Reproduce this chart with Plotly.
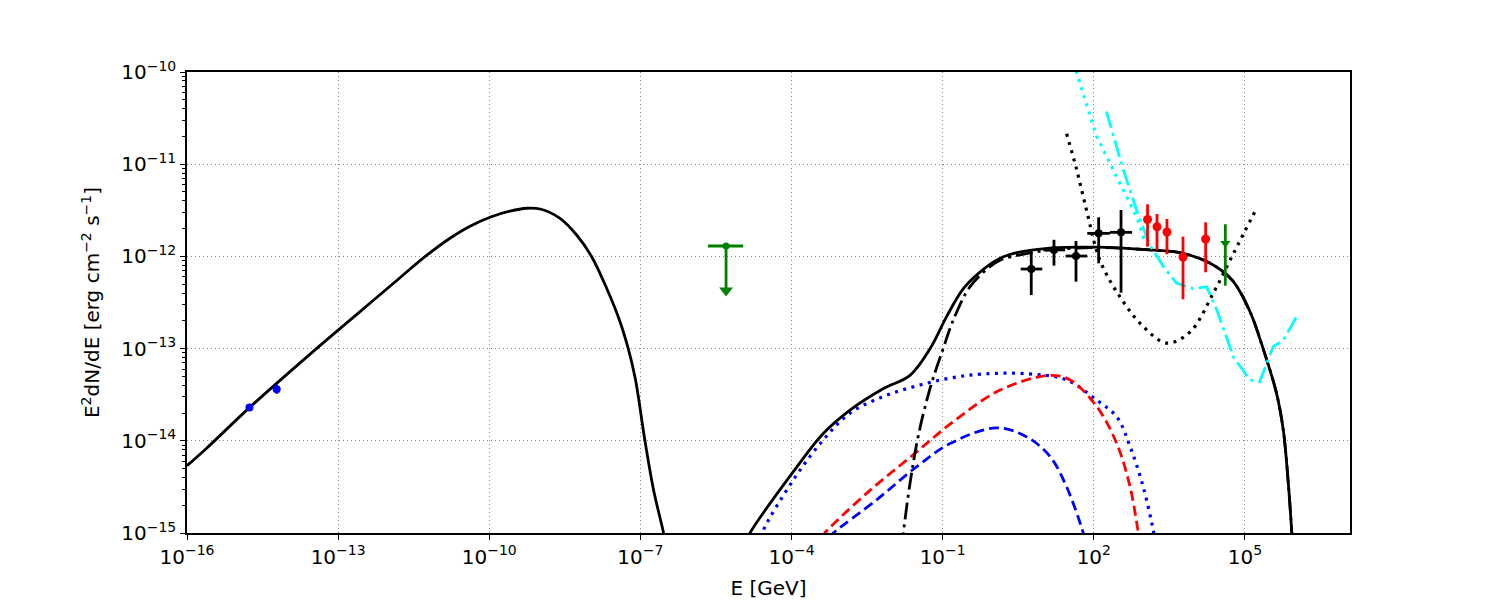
import numpy as np
import plotly.graph_objects as go

# ---------------- data (log10 values) ----------------
# synchrotron model (low energy hump)
sync_logE = [-16, -15.61, -14.76, -13.43, -12.6, -11.772, -11.276, -10.78, -10.383, -9.972, -9.589, -9.257, -8.993, -8.596, -8.265, -7.967, -7.67, -7.405, -7.24, -7.1, -6.91, -6.74, -6.54, -6.45]
sync_logF = [-14.27, -14.08, -13.64, -13.0, -12.615, -12.231, -12.003, -11.803, -11.672, -11.572, -11.509, -11.478, -11.486, -11.587, -11.768, -12.003, -12.346, -12.708, -13.004, -13.33, -14.0, -14.53, -15.0, -15.25]

# total high-energy model (solid)
tot_logE = [-4.9, -4.825, -3.965, -3.37, -2.84, -2.2, -1.65, -1.25, -0.92, -0.59, -0.26, 0.14, 0.47, 1.13, 2.057, 3.115, 3.71, 4.31, 4.75, 5.1, 5.36, 5.62, 5.76, 5.86, 5.93, 5.96]
tot_logF = [-15.1, -15.0, -14.335, -13.92, -13.666, -13.44, -13.29, -13.0, -12.65, -12.35, -12.17, -12.02, -11.96, -11.91, -11.90, -11.93, -11.96, -12.075, -12.26, -12.60, -13.0, -13.47, -13.88, -14.46, -15.0, -15.3]

# pion-decay component (dash-dot)
pi_logE = [-1.85, -1.78, -1.515, -1.25, -0.99, -0.79, -0.46, -0.06, 0.14, 0.66, 1.13, 2.057, 3.115, 3.71, 4.31, 4.75, 5.1, 5.36, 5.62, 5.76, 5.86, 5.93, 5.96]
pi_logF = [-15.5, -15.0, -14.03, -13.43, -13.0, -12.69, -12.33, -12.11, -12.04, -11.97, -11.93, -11.905, -11.93, -11.96, -12.075, -12.26, -12.60, -13.0, -13.47, -13.88, -14.46, -15.0, -15.3]

# inverse Compton (blue dotted)
ic_logE = [-4.6, -4.56, -3.965, -3.37, -2.84, -2.18, -1.52, -0.855, -0.195, 0.73, 1.46, 2.06, 2.455, 2.72, 2.98, 3.18, 3.22]
ic_logF = [-15.05, -14.97, -14.425, -13.99, -13.70, -13.52, -13.405, -13.32, -13.275, -13.275, -13.34, -13.56, -13.74, -14.064, -14.50, -14.97, -15.1]

# bremsstrahlung (red dashed)
br_logE = [-3.4, -3.34, -2.51, -1.515, -0.855, 0.14, 1.13, 1.53, 2.06, 2.455, 2.72, 2.885, 2.92]
br_logF = [-15.05, -15.0, -14.57, -14.12, -13.82, -13.45, -13.29, -13.34, -13.63, -14.03, -14.50, -15.0, -15.1]

# second blue dashed component
bd_logE = [-3.25, -3.17, -2.31, -1.515, -0.855, 0.07, 0.66, 1.13, 1.46, 1.79, 1.83]
bd_logF = [-15.05, -15.0, -14.64, -14.28, -14.03, -13.86, -13.955, -14.17, -14.5, -15.0, -15.1]

# sensitivity curves
s1_logE = [1.46, 1.66, 1.856, 2.12, 2.52, 2.98, 3.445, 3.91, 4.37, 4.77, 5.23]
s1_logF = [-10.67, -11.06, -11.50, -12.04, -12.44, -12.76, -12.94, -12.82, -12.40, -11.97, -11.48]

s2_logE = [1.6, 1.66, 2.057, 2.585, 2.85, 3.015]
s2_logF = [-9.9, -10.01, -10.70, -11.28, -11.57, -11.84]

s3_logE = [2.25, 2.585, 2.85, 3.115, 3.38, 3.64, 3.97, 4.24, 4.44, 4.77, 5.10, 5.29, 5.56, 5.76, 6.06]
s3_logF = [-10.43, -11.06, -11.50, -11.88, -12.11, -12.29, -12.35, -12.33, -12.58, -13.09, -13.34, -13.36, -12.98, -12.91, -12.62]

# radio points (blue)
radio_logE = [-14.76, -14.22]
radio_logF = [-13.64, -13.44]
radio_logF_err = [0.0, 0.05]

# Fermi-LAT like points (black)
lat_logE = [0.758, 1.209, 1.646, 2.096, 2.54]
lat_logF = [-12.137, -11.93, -11.996, -11.75, -11.739]
lat_logE_lo = [0.548, 1.0, 1.441, 1.87, 2.32]
lat_logE_hi = [0.977, 1.43, 1.87, 2.32, 2.76]
lat_logF_lo = [-12.419, -12.10, -12.274, -12.075, -12.394]
lat_logF_hi = [-11.96, -11.82, -11.833, -11.576, -11.497]

# TeV points (red)
tev_logE = [3.066, 3.254, 3.452, 3.77, 4.22]
tev_logF = [-11.60, -11.678, -11.735, -12.006, -11.811]
tev_logF_lo = [-11.895, -11.93, -11.977, -12.465, -12.172]
tev_logF_hi = [-11.435, -11.54, -11.594, -11.786, -11.63]

# green high-energy point
g_logE = [4.61]
g_logF = [-11.858]
g_logF_lo = [-12.318]
g_logF_hi = [-11.651]

# X-ray upper limit (green)
ul_logE = [-5.30]
ul_logF = [-11.887]
ul_logE_lo = [-5.66]
ul_logE_hi = [-4.96]
ul_arrow_logF = [-12.37]

x_tick_exp = [-16, -13, -10, -7, -4, -1, 2, 5]
y_tick_exp = [-15, -14, -13, -12, -11, -10]


def p(a):
    return np.power(10.0, np.array(a, dtype=float))


fig = go.Figure()

LW = 2.8
DOT = "3px,5.5px"


def curve(lx, ly, color, dash="solid", shape="spline", width=LW):
    fig.add_trace(go.Scatter(x=p(lx), y=p(ly), mode="lines",
                             line=dict(color=color, width=width, dash=dash, shape=shape, smoothing=1.0),
                             showlegend=False, hoverinfo="skip"))


curve(sync_logE, sync_logF, "black")
curve(ic_logE, ic_logF, "blue", dash=DOT, width=3.2)
curve(br_logE, br_logF, "red", dash="10px,5px")
curve(bd_logE, bd_logF, "blue", dash="10px,5px")
curve(pi_logE, pi_logF, "black", dash="17px,5px,3px,5px")
curve(tot_logE, tot_logF, "black")
curve(s1_logE, s1_logF, "black", dash=DOT, width=3.2)
curve(s2_logE, s2_logF, "cyan", dash=DOT, shape="linear", width=3.2)
curve(s3_logE, s3_logF, "cyan", dash="17px,5px,3px,5px", shape="linear")

# radio points
rx, ry = p(radio_logE), p(radio_logF)
fig.add_trace(go.Scatter(x=rx, y=ry, mode="markers",
                         marker=dict(color="blue", size=8),
                         error_y=dict(type="data", array=p(np.array(radio_logF) + np.array(radio_logF_err)) - ry,
                                      arrayminus=ry - p(np.array(radio_logF) - np.array(radio_logF_err)),
                                      color="blue", thickness=2.5, width=0),
                         showlegend=False))

# LAT points
lx, ly = p(lat_logE), p(lat_logF)
fig.add_trace(go.Scatter(x=lx, y=ly, mode="markers",
                         marker=dict(color="black", size=8),
                         error_x=dict(type="data", array=p(lat_logE_hi) - lx, arrayminus=lx - p(lat_logE_lo),
                                      color="black", thickness=2.8, width=0),
                         error_y=dict(type="data", array=p(lat_logF_hi) - ly, arrayminus=ly - p(lat_logF_lo),
                                      color="black", thickness=2.8, width=0),
                         showlegend=False))

# TeV points
tx, ty = p(tev_logE), p(tev_logF)
fig.add_trace(go.Scatter(x=tx, y=ty, mode="markers",
                         marker=dict(color="red", size=9),
                         error_y=dict(type="data", array=p(tev_logF_hi) - ty, arrayminus=ty - p(tev_logF_lo),
                                      color="red", thickness=2.8, width=0),
                         showlegend=False))

# green HE point
gx, gy = p(g_logE), p(g_logF)
fig.add_trace(go.Scatter(x=gx, y=gy, mode="markers",
                         marker=dict(color="green", size=9, symbol="triangle-down"),
                         error_y=dict(type="data", array=p(g_logF_hi) - gy, arrayminus=gy - p(g_logF_lo),
                                      color="green", thickness=2.8, width=0),
                         showlegend=False))

# X-ray upper limit
ux, uy = p(ul_logE), p(ul_logF)
fig.add_trace(go.Scatter(x=ux, y=uy, mode="markers",
                         marker=dict(color="green", size=7),
                         error_x=dict(type="data", array=p(ul_logE_hi) - ux, arrayminus=ux - p(ul_logE_lo),
                                      color="green", thickness=2.8, width=0),
                         error_y=dict(type="data", array=[0], arrayminus=uy - p(ul_arrow_logF),
                                      color="green", thickness=2.8, width=0),
                         showlegend=False))
fig.add_trace(go.Scatter(x=ux, y=p(ul_arrow_logF), mode="markers",
                         marker=dict(color="green", size=12, symbol="triangle-down"),
                         showlegend=False))

fnt = dict(family="DejaVu Sans", size=20, color="black")

fig.update_layout(
    width=1500, height=600,
    margin=dict(l=187, r=150, t=72, b=67),
    paper_bgcolor="white", plot_bgcolor="white",
    font=fnt,
    showlegend=False,
)

fig.update_xaxes(
    type="log", range=[-16, 7.085], automargin=False,
    tickvals=[10.0 ** e for e in x_tick_exp],
    ticktext=["10<sup>\u2212%d</sup>" % (-e) if e < 0 else "10<sup>%d</sup>" % e for e in x_tick_exp],
    ticks="outside", ticklen=5, tickwidth=1.2, tickcolor="black",
    showline=True, linecolor="black", linewidth=1.5, mirror=True,
    showgrid=True, gridcolor="#8a8a8a", griddash="1px,3px", gridwidth=1,
    zeroline=False,
    title=dict(text="E [GeV]", font=fnt, standoff=14),
    tickfont=fnt,
)
fig.update_yaxes(
    type="log", range=[-15, -10], automargin=False,
    tickvals=[10.0 ** e for e in y_tick_exp],
    ticktext=["10<sup>\u2212%d</sup>" % (-e) for e in y_tick_exp],
    ticks="outside", ticklen=5, tickwidth=1.2, tickcolor="black",
    minor=dict(ticks="outside", ticklen=3, tickcolor="black", tickwidth=1, dtick="D1", showgrid=False),
    showline=True, linecolor="black", linewidth=1.5, mirror=True,
    showgrid=True, gridcolor="#8a8a8a", griddash="1px,3px", gridwidth=1,
    zeroline=False,
    title=dict(text="E<sup>2</sup>dN/dE [erg cm<sup>\u22122</sup> s<sup>\u22121</sup>]", font=fnt, standoff=16),
    tickfont=fnt,
)

fig.write_html("out.html")
